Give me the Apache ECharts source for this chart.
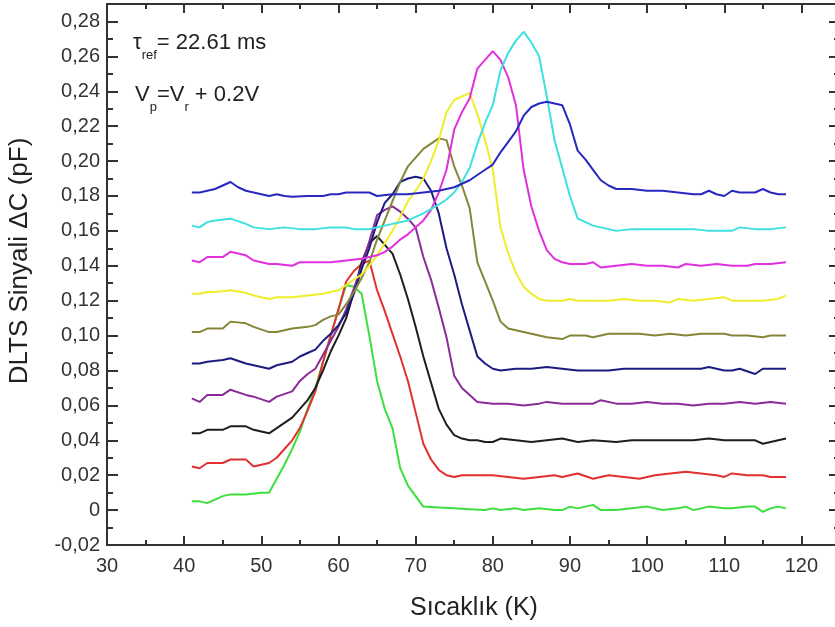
<!DOCTYPE html>
<html>
<head>
<meta charset="utf-8">
<script src="https://cdn.jsdelivr.net/npm/echarts@6/dist/echarts.min.js"></script>
<style>
  html, body { margin: 0; padding: 0; background: #fff; }
  #chart { width: 835px; height: 627px; }
</style>
</head>
<body>
<div id="chart"></div>
<script>
// DLTS spektrumlari: [T (K), deltaC (pF)]
const green = [[41,0.005],[42,0.005],[43,0.004],[44,0.006],[45,0.008],[46,0.009],[48,0.009],[50,0.010],[51,0.010],[52,0.018],[53,0.026],[54,0.035],[55,0.045],[56,0.058],[57,0.070],[58,0.085],[59,0.100],[60,0.115],[61,0.129],[62,0.128],[63,0.124],[64,0.100],[65,0.074],[66,0.058],[67,0.047],[68,0.024],[69,0.014],[70,0.008],[71,0.002],[73,0.0015],[75,0.001],[77,0.0005],[79,0],[80,0.001],[81,0],[83,0.001],[84,0],[86,0.001],[88,0],[89,0],[90,0.002],[91,0.001],[93,0.003],[94,0],[96,0],[98,0.001],[100,0.002],[102,0],[104,0.001],[105,0.002],[106,0],[107,0.001],[108,0.002],[110,0.001],[111,0.001],[113,0.002],[114,0.002],[115,-0.001],[116,0.001],[117,0.002],[118,0.001]];
const red = [[41,0.025],[42,0.024],[43,0.027],[45,0.027],[46,0.029],[48,0.029],[49,0.025],[50,0.026],[51,0.027],[52,0.030],[53,0.035],[54,0.040],[55,0.047],[56,0.057],[57,0.068],[58,0.085],[59,0.100],[60,0.115],[61,0.131],[62,0.137],[63,0.141],[64,0.143],[65,0.126],[66,0.114],[67,0.101],[68,0.088],[69,0.074],[70,0.056],[71,0.038],[72,0.029],[73,0.023],[74,0.020],[75,0.019],[76,0.020],[78,0.020],[80,0.020],[82,0.019],[84,0.018],[86,0.019],[88,0.020],[89,0.019],[90,0.020],[91,0.021],[93,0.018],[95,0.020],[97,0.019],[99,0.018],[101,0.020],[103,0.021],[105,0.022],[107,0.021],[109,0.020],[110,0.019],[111,0.021],[113,0.020],[115,0.020],[116,0.019],[118,0.019]];
const black = [[41,0.044],[42,0.044],[43,0.046],[45,0.046],[46,0.048],[48,0.048],[49,0.046],[51,0.044],[52,0.047],[53,0.050],[54,0.053],[55,0.058],[56,0.063],[57,0.070],[58,0.080],[59,0.091],[60,0.100],[61,0.110],[62,0.125],[63,0.142],[64,0.153],[65,0.157],[66,0.152],[67,0.147],[68,0.135],[69,0.121],[70,0.105],[71,0.088],[72,0.073],[73,0.058],[74,0.049],[75,0.043],[76,0.041],[77,0.040],[78,0.040],[79,0.039],[80,0.039],[81,0.041],[83,0.040],[85,0.039],[87,0.040],[89,0.041],[91,0.039],[93,0.040],[96,0.039],[98,0.040],[100,0.040],[102,0.040],[104,0.040],[106,0.040],[108,0.041],[110,0.040],[112,0.040],[114,0.040],[115,0.038],[116,0.039],[118,0.041]];
const purple = [[41,0.064],[42,0.062],[43,0.066],[45,0.066],[46,0.069],[48,0.066],[49,0.065],[51,0.062],[52,0.065],[54,0.068],[55,0.074],[56,0.078],[57,0.081],[58,0.089],[59,0.097],[60,0.105],[61,0.115],[62,0.127],[63,0.139],[64,0.154],[65,0.169],[66,0.172],[67,0.174],[68,0.171],[69,0.167],[70,0.162],[71,0.145],[72,0.132],[73,0.116],[74,0.099],[75,0.077],[76,0.070],[77,0.066],[78,0.062],[80,0.061],[82,0.061],[84,0.060],[86,0.061],[87,0.062],[89,0.061],[91,0.061],[93,0.061],[94,0.063],[96,0.061],[98,0.061],[100,0.062],[102,0.061],[104,0.061],[106,0.060],[108,0.061],[110,0.061],[112,0.062],[114,0.061],[116,0.062],[118,0.061]];
const navy = [[41,0.084],[42,0.084],[43,0.085],[45,0.086],[46,0.087],[48,0.084],[49,0.083],[51,0.081],[52,0.083],[54,0.085],[55,0.088],[56,0.090],[57,0.092],[58,0.097],[59,0.101],[60,0.106],[61,0.113],[62,0.124],[63,0.138],[64,0.150],[65,0.165],[66,0.176],[67,0.181],[68,0.188],[69,0.190],[70,0.191],[71,0.190],[72,0.183],[73,0.170],[74,0.150],[75,0.135],[76,0.118],[77,0.103],[78,0.088],[79,0.084],[80,0.081],[81,0.080],[83,0.081],[85,0.081],[87,0.082],[89,0.081],[91,0.080],[93,0.080],[95,0.080],[97,0.081],[99,0.081],[101,0.081],[103,0.081],[105,0.081],[107,0.081],[108,0.082],[110,0.080],[111,0.080],[112,0.081],[114,0.078],[115,0.081],[118,0.081]];
const olive = [[41,0.102],[42,0.102],[43,0.104],[45,0.104],[46,0.108],[48,0.107],[49,0.105],[51,0.102],[52,0.102],[54,0.104],[56,0.105],[57,0.106],[58,0.109],[59,0.111],[60,0.112],[61,0.118],[62,0.125],[63,0.133],[64,0.142],[65,0.155],[66,0.166],[67,0.177],[68,0.188],[69,0.197],[70,0.202],[71,0.207],[72,0.210],[73,0.213],[74,0.212],[75,0.197],[76,0.186],[77,0.173],[78,0.142],[79,0.131],[80,0.120],[81,0.108],[82,0.104],[83,0.103],[85,0.101],[87,0.099],[89,0.098],[90,0.100],[92,0.100],[93,0.099],[95,0.101],[97,0.101],[99,0.101],[101,0.100],[103,0.101],[105,0.100],[107,0.101],[109,0.101],[110,0.101],[111,0.100],[113,0.100],[115,0.099],[116,0.100],[118,0.100]];
const yellow = [[41,0.124],[42,0.124],[43,0.125],[44,0.125],[46,0.126],[48,0.1245],[49,0.123],[51,0.121],[52,0.122],[54,0.122],[56,0.123],[58,0.124],[60,0.126],[61,0.129],[62,0.132],[63,0.135],[64,0.140],[65,0.146],[66,0.153],[67,0.160],[68,0.168],[69,0.177],[70,0.183],[71,0.190],[72,0.200],[73,0.212],[74,0.228],[75,0.235],[76,0.237],[77,0.239],[78,0.227],[79,0.212],[80,0.195],[81,0.162],[82,0.147],[83,0.136],[84,0.128],[85,0.124],[86,0.121],[87,0.120],[89,0.120],[90,0.121],[91,0.120],[93,0.120],[95,0.120],[97,0.121],[99,0.120],[101,0.120],[103,0.119],[104,0.121],[106,0.120],[108,0.121],[110,0.122],[111,0.120],[113,0.120],[115,0.120],[117,0.121],[118,0.123]];
const magenta = [[41,0.143],[42,0.142],[43,0.145],[45,0.145],[46,0.148],[48,0.146],[49,0.143],[51,0.141],[52,0.141],[54,0.140],[55,0.142],[57,0.142],[59,0.142],[61,0.143],[63,0.144],[65,0.146],[66,0.148],[67,0.151],[68,0.155],[69,0.158],[70,0.162],[71,0.166],[72,0.172],[73,0.182],[74,0.195],[75,0.218],[76,0.228],[77,0.236],[78,0.253],[79,0.258],[80,0.263],[81,0.258],[82,0.248],[83,0.232],[84,0.195],[85,0.174],[86,0.160],[87,0.149],[88,0.144],[89,0.142],[90,0.141],[92,0.141],[93,0.142],[94,0.139],[96,0.140],[98,0.141],[100,0.140],[102,0.140],[104,0.139],[105,0.141],[107,0.140],[109,0.141],[111,0.140],[113,0.140],[114,0.141],[116,0.141],[118,0.142]];
const cyan = [[41,0.163],[42,0.162],[43,0.165],[44,0.166],[46,0.167],[48,0.164],[49,0.162],[51,0.161],[53,0.162],[55,0.161],[57,0.161],[59,0.162],[61,0.162],[62,0.161],[63,0.161],[64,0.161],[65,0.162],[67,0.164],[69,0.166],[71,0.170],[73,0.175],[74,0.178],[75,0.182],[76,0.188],[77,0.196],[78,0.210],[79,0.222],[80,0.232],[81,0.252],[82,0.262],[83,0.269],[84,0.274],[85,0.268],[86,0.260],[87,0.237],[88,0.212],[89,0.196],[90,0.180],[91,0.167],[92,0.165],[93,0.163],[94,0.162],[96,0.160],[98,0.161],[100,0.161],[102,0.161],[104,0.161],[106,0.161],[108,0.160],[110,0.160],[111,0.160],[112,0.162],[114,0.161],[116,0.161],[118,0.162]];
const blue = [[41,0.182],[42,0.182],[43,0.183],[44,0.184],[46,0.188],[47,0.185],[48,0.183],[50,0.181],[51,0.180],[52,0.181],[53,0.180],[54,0.1795],[56,0.180],[58,0.180],[59,0.181],[60,0.181],[61,0.182],[63,0.182],[64,0.182],[65,0.180],[67,0.181],[69,0.181],[71,0.182],[73,0.183],[75,0.185],[76,0.187],[77,0.189],[78,0.192],[79,0.195],[80,0.198],[81,0.205],[82,0.211],[83,0.217],[84,0.226],[85,0.231],[86,0.233],[87,0.234],[88,0.233],[89,0.232],[90,0.221],[91,0.206],[92,0.201],[93,0.195],[94,0.189],[95,0.186],[96,0.184],[98,0.184],[100,0.183],[102,0.183],[104,0.182],[106,0.181],[107,0.181],[108,0.183],[109,0.181],[110,0.180],[111,0.183],[112,0.182],[114,0.182],[115,0.184],[116,0.182],[117,0.181],[118,0.181]];

const curves = [
  { data: green,   color: '#3ddf3d' },
  { data: red,     color: '#e23030' },
  { data: black,   color: '#1e1e1e' },
  { data: purple,  color: '#8a2c98' },
  { data: navy,    color: '#1c1c80' },
  { data: olive,   color: '#86863a' },
  { data: yellow,  color: '#eeee2e' },
  { data: magenta, color: '#e030e0' },
  { data: cyan,    color: '#3ee0e0' },
  { data: blue,    color: '#2828c0' }
];

const FONT = '"Liberation Sans", Arial, sans-serif';
const AX = '#333';

function xLabel(v) {
  return Math.abs(v % 10) < 1e-6 ? String(v) : '';
}
function yLabel(v) {
  const k = Math.round(v / 0.02);
  if (Math.abs(k * 0.02 - v) > 1e-6) return '';
  if (k === 0) return '0';
  return (k * 0.02).toFixed(2).replace('.', ',');
}

function xAx(pos, interval, len, withLine, withLabel) {
  return {
    type: 'value', position: pos, min: 30, max: 125, interval: interval,
    axisLine: { show: withLine, onZero: false, lineStyle: { color: AX, width: 2 } },
    axisTick: { show: true, inside: true, length: len, lineStyle: { color: AX, width: 2 } },
    axisLabel: { show: withLabel, formatter: xLabel, fontSize: 20, color: '#333', margin: 11, fontFamily: FONT },
    splitLine: { show: false }
  };
}
function yAx(pos, interval, len, withLine, withLabel) {
  return {
    type: 'value', position: pos, min: -0.02, max: 0.29, interval: interval,
    axisLine: { show: withLine, onZero: false, lineStyle: { color: AX, width: 2 } },
    axisTick: { show: true, inside: true, length: len, lineStyle: { color: AX, width: 2 } },
    axisLabel: { show: withLabel, formatter: yLabel, fontSize: 20, color: '#333', margin: 7, fontFamily: FONT },
    splitLine: { show: false }
  };
}

const chart = echarts.init(document.getElementById('chart'), null, { renderer: 'canvas' });
chart.setOption({
  animation: false,
  backgroundColor: '#fff',
  grid: { left: 107, right: -5, top: 4, bottom: 82, outerBoundsMode: 'none', containLabel: false },
  xAxis: [
    xAx('bottom', 10, 9, true, true),
    xAx('bottom', 5, 5, false, false),
    xAx('top', 10, 9, true, false),
    xAx('top', 5, 5, false, false)
  ],
  yAxis: [
    yAx('left', 0.02, 11, true, true),
    yAx('left', 0.01, 6, false, false),
    yAx('right', 0.02, 11, true, false),
    yAx('right', 0.01, 6, false, false)
  ],
  series: curves.map(c => ({
    type: 'line',
    data: c.data,
    showSymbol: false,
    symbol: 'none',
    lineStyle: { color: c.color, width: 2 },
    itemStyle: { color: c.color },
    z: 3
  })),
  graphic: [
    {
      type: 'text', x: 474, y: 608,
      style: { text: 'Sıcaklık (K)', font: '25px ' + FONT, fill: '#222', align: 'center', verticalAlign: 'middle' }
    },
    {
      type: 'text', x: 20, y: 261, rotation: Math.PI / 2,
      style: { text: 'DLTS Sinyali ΔC (pF)', font: '26px ' + FONT, fill: '#222', align: 'center', verticalAlign: 'middle' }
    },
    {
      type: 'text', x: 133, y: 32,
      style: {
        text: '{m|τ}{s|ref}{m|= 22.61 ms}',
        verticalAlign: 'top',
        rich: {
          m: { fontSize: 22, lineHeight: 22, fontFamily: FONT, fill: '#222', verticalAlign: 'top' },
          s: { fontSize: 13, lineHeight: 13, fontFamily: FONT, fill: '#222', verticalAlign: 'top', padding: [17, 0, 0, 0] }
        }
      }
    },
    {
      type: 'text', x: 135, y: 84,
      style: {
        text: '{m|V}{s|p}{m|=V}{s|r}{m| + 0.2V}',
        verticalAlign: 'top',
        rich: {
          m: { fontSize: 22, lineHeight: 22, fontFamily: FONT, fill: '#222', verticalAlign: 'top' },
          s: { fontSize: 13, lineHeight: 13, fontFamily: FONT, fill: '#222', verticalAlign: 'top', padding: [17, 0, 0, 0] }
        }
      }
    }
  ]
});
</script>
</body>
</html>
